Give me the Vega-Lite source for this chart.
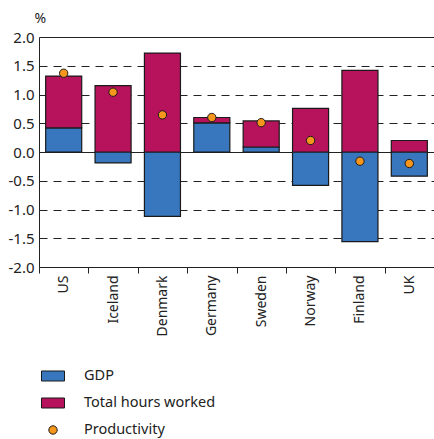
{
  "$schema": "https://vega.github.io/schema/vega-lite/v6.json",
  "width": 395,
  "height": 230,
  "autosize": {"type": "none"},
  "padding": {"left": 39, "top": 37, "right": 0, "bottom": 172},
  "background": "white",
  "config": {
    "view": {"stroke": null},
    "font": "Noto Sans",
    "axis": {"labelFont": "Noto Sans", "labelFontSize": 14, "labelColor": "#222", "titleFont": "Noto Sans", "titleFontWeight": "normal", "titleColor": "#222"},
    "legend": {"labelFont": "Noto Sans", "labelFontSize": 14.5, "labelColor": "#222"}
  },
  "data": {
    "values": [
      {"country": "US", "series": "GDP", "value": 0.42},
      {"country": "US", "series": "Total hours worked", "value": 0.9},
      {"country": "US", "series": "Productivity", "value": 1.37},
      {"country": "Iceland", "series": "GDP", "value": -0.19},
      {"country": "Iceland", "series": "Total hours worked", "value": 1.155},
      {"country": "Iceland", "series": "Productivity", "value": 1.04},
      {"country": "Denmark", "series": "GDP", "value": -1.12},
      {"country": "Denmark", "series": "Total hours worked", "value": 1.72},
      {"country": "Denmark", "series": "Productivity", "value": 0.645},
      {"country": "Germany", "series": "GDP", "value": 0.505},
      {"country": "Germany", "series": "Total hours worked", "value": 0.095},
      {"country": "Germany", "series": "Productivity", "value": 0.6},
      {"country": "Sweden", "series": "GDP", "value": 0.087},
      {"country": "Sweden", "series": "Total hours worked", "value": 0.453},
      {"country": "Sweden", "series": "Productivity", "value": 0.51},
      {"country": "Norway", "series": "GDP", "value": -0.58},
      {"country": "Norway", "series": "Total hours worked", "value": 0.76},
      {"country": "Norway", "series": "Productivity", "value": 0.2},
      {"country": "Finland", "series": "GDP", "value": -1.56},
      {"country": "Finland", "series": "Total hours worked", "value": 1.42},
      {"country": "Finland", "series": "Productivity", "value": -0.16},
      {"country": "UK", "series": "GDP", "value": -0.42},
      {"country": "UK", "series": "Total hours worked", "value": 0.2},
      {"country": "UK", "series": "Productivity", "value": -0.2}
    ]
  },
  "encoding": {
    "x": {
      "field": "country", "type": "nominal", "sort": null,
      "scale": {"paddingInner": 0, "paddingOuter": 0},
      "axis": {
        "title": null, "labelAngle": -90, "labelAlign": "right", "labelBaseline": "middle",
        "labelPadding": 2, "tickBand": "extent", "tickSize": 6, "tickColor": "#222",
        "domainColor": "#222", "grid": false
      }
    },
    "y": {
      "type": "quantitative",
      "scale": {"domain": [-2, 2], "nice": false},
      "axis": {
        "title": "%", "titleAngle": 0, "titleAlign": "left", "titleBaseline": "alphabetic",
        "titleX": -5, "titleY": -15, "titleFontSize": 14,
        "values": [-2, -1.5, -1, -0.5, 0, 0.5, 1, 1.5, 2],
        "labelExpr": "replace(format(datum.value, '.1f'), '\u2212', '-')",
        "labelFontSize": 15,
        "ticks": false, "tickSize": 0, "labelPadding": 5, "domainColor": "#222",
        "grid": true, "gridColor": "#222", "gridOpacity": 1,
        "gridDash": {"condition": {"test": "datum.value === 0 || abs(datum.value) === 2", "value": []}, "value": [8, 6]}
      }
    }
  },
  "layer": [
    {
      "transform": [{"filter": "datum.series !== 'Productivity'"}],
      "mark": {"type": "bar", "width": {"band": 0.73}, "stroke": "#1a1a1a", "strokeWidth": 1.2},
      "encoding": {
        "y": {"field": "value", "type": "quantitative", "stack": "zero"},
        "order": {"field": "series", "sort": "ascending"},
        "color": {
          "field": "series", "type": "nominal",
          "scale": {"domain": ["GDP", "Total hours worked", "Productivity"], "range": ["#3877bd", "#b6135c", "#f7961d"]},
          "legend": {
            "title": null, "orient": "none", "legendX": 2, "legendY": 327, "direction": "vertical",
            "labelOffset": 19, "rowPadding": 7,
            "symbolStrokeColor": "#1a1a1a", "symbolStrokeWidth": 1,
            "encode": {"symbols": {"update": {
              "shape": {"signal": "datum.value === 'Productivity' ? 'circle' : 'M-1,-0.435H1V0.435H-1Z'"},
              "size": {"signal": "datum.value === 'Productivity' ? 70 : 529"},
              "stroke": {"value": "#1a1a1a"},
              "strokeWidth": {"value": 1},
              "opacity": {"value": 1}
            }}}
          }
        }
      }
    },
    {
      "transform": [{"filter": "datum.series === 'Productivity'"}],
      "mark": {"type": "circle", "size": 70, "opacity": 1, "stroke": "#1a1a1a", "strokeWidth": 1},
      "encoding": {
        "y": {"field": "value", "type": "quantitative"},
        "color": {"field": "series", "type": "nominal"}
      }
    }
  ]
}
